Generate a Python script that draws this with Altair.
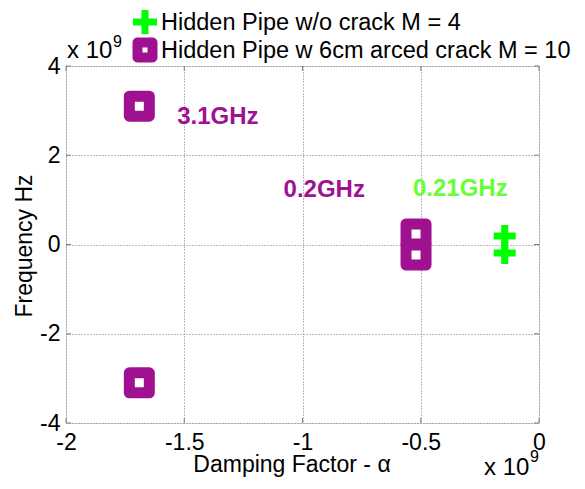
import altair as alt
import pandas as pd

# ---- data (values in units of 1e9) ----
series_names = ["Hidden Pipe w/o crack M = 4", "Hidden Pipe w 6cm arced crack M = 10"]
green_x = [-0.145, -0.145]
green_y = [0.19, -0.19]
purple_x = [-1.69, -1.69, -0.52, -0.52]
purple_y = [3.1, -3.1, 0.235, -0.235]
annot_text = ["3.1GHz", "0.2GHz", "0.21GHz"]
annot_x = [-1.53, -1.08, -0.533]
annot_y = [2.85, 1.23, 1.25]
annot_series = ["purple", "purple", "green"]
x_ticks = [-2, -1.5, -1, -0.5, 0]
y_ticks = [-4, -2, 0, 2, 4]
x_domain = [-2, 0]
y_domain = [-4, 4]

PURPLE = "#A01191"
GREEN = "#00FF00"
GREEN_TXT = "#66FF33"
GRAY = "#808080"
FONT = "Liberation Sans"
W, H = 473, 357

xs = alt.Scale(domain=x_domain, nice=False, zero=False)
ys = alt.Scale(domain=y_domain, nice=False, zero=False)

x_axis = alt.Axis(values=x_ticks, grid=True, ticks=False, domain=False, title=None,
                  labelFont=FONT, labelFontSize=23, labelColor="black", labelPadding=8,
                  labelExpr="toString(datum.value)", gridColor="#777777", gridDash=[1, 2],
                  labelFlush=False, labelOverlap=False)
y_axis = alt.Axis(values=y_ticks, grid=True, ticks=False, domain=False, title=None,
                  labelFont=FONT, labelFontSize=23, labelColor="black", labelPadding=6,
                  labelExpr="toString(datum.value)", gridColor="#777777", gridDash=[1, 2],
                  labelFlush=False, labelOverlap=False)

green_df = pd.DataFrame({"x": green_x, "y": green_y, "s": series_names[0]})
purple_df = pd.DataFrame({"x": purple_x, "y": purple_y, "s": series_names[1]})
annot_df = pd.DataFrame({"x": annot_x, "y": annot_y, "t": annot_text, "c": annot_series})
xt_df = pd.DataFrame({"t": x_ticks})
yt_df = pd.DataFrame({"t": y_ticks})

X = lambda f: alt.X(f, type="quantitative", scale=xs, axis=x_axis)
Y = lambda f: alt.Y(f, type="quantitative", scale=ys, axis=y_axis)

PLUS = "M-1,0H1M0,-1V1"

base_grid = alt.Chart(purple_df).mark_point(opacity=0).encode(x=X("x"), y=Y("y"))

tick_top = alt.Chart(xt_df).mark_rule(color=GRAY, strokeWidth=1).encode(
    x=X("t"), y=alt.value(0), y2=alt.value(5))
tick_bot = alt.Chart(xt_df).mark_rule(color=GRAY, strokeWidth=1).encode(
    x=X("t"), y=alt.value(H - 5), y2=alt.value(H))
tick_left = alt.Chart(yt_df).mark_rule(color=GRAY, strokeWidth=1).encode(
    y=Y("t"), x=alt.value(0), x2=alt.value(5))
tick_right = alt.Chart(yt_df).mark_rule(color=GRAY, strokeWidth=1).encode(
    y=Y("t"), x=alt.value(W - 5), x2=alt.value(W))

purple_pts = alt.Chart(purple_df).mark_point(
    shape="square", filled=True, fill="white", stroke=PURPLE, strokeWidth=11,
    strokeJoin="round", size=400, opacity=1, fillOpacity=1, strokeOpacity=1
).encode(x=X("x"), y=Y("y"))

green_pts = alt.Chart(green_df).mark_point(
    shape=PLUS, filled=False, stroke=GREEN, strokeWidth=7, strokeCap="butt",
    size=484, opacity=1, strokeOpacity=1
).encode(x=X("x"), y=Y("y"))

annot = alt.Chart(annot_df).mark_text(
    align="left", baseline="middle", font=FONT, fontSize=24, fontWeight="bold"
).encode(
    x=X("x"), y=Y("y"), text="t:N",
    color=alt.Color("c:N", scale=alt.Scale(domain=["purple", "green"], range=[PURPLE, GREEN_TXT]), legend=None),
)

# ---- legend (manual, MATLAB style) ----
leg_df = pd.DataFrame({"name": series_names})
leg_green_icon = alt.Chart(leg_df.iloc[[0]]).mark_point(
    shape=PLUS, filled=False, stroke=GREEN, strokeWidth=7, strokeCap="butt",
    size=576, opacity=1).encode(x=alt.value(79), y=alt.value(-44))
leg_purple_icon = alt.Chart(leg_df.iloc[[1]]).mark_point(
    shape="square", filled=True, fill="white", stroke=PURPLE, strokeWidth=10,
    strokeJoin="round", size=225, opacity=1, fillOpacity=1).encode(x=alt.value(79), y=alt.value(-16))
leg_text1 = alt.Chart(leg_df.iloc[[0]]).mark_text(
    align="left", baseline="alphabetic", font=FONT, fontSize=23.5, color="black"
).encode(x=alt.value(95), y=alt.value(-36), text="name:N")
leg_text2 = alt.Chart(leg_df.iloc[[1]]).mark_text(
    align="left", baseline="alphabetic", font=FONT, fontSize=23.5, color="black"
).encode(x=alt.value(95), y=alt.value(-8), text="name:N")

# ---- exponent labels and axis titles ----
one = pd.DataFrame({"a": [0]})
def txt(s, x, y, size, angle=0, align="left", baseline="alphabetic"):
    kw = dict(align=align, baseline=baseline, font=FONT, fontSize=size, color="black", text=s)
    if angle:
        kw["angle"] = angle
    return alt.Chart(one).mark_text(**kw).encode(x=alt.value(x), y=alt.value(y))

exp_top = txt("x 10", 1, -8, 24)
exp_top9 = txt("9", 47, -19, 16)
exp_bot = txt("x 10", 418, 409, 24)
exp_bot9 = txt("9", 464, 396, 16)
xtitle = txt("Damping Factor - \u03b1", 226, 406, 23, align="center")
ytitle = txt("Frequency Hz", -41, 180, 23, angle=270, align="center", baseline="middle")

chart = alt.layer(
    base_grid, tick_top, tick_bot, tick_left, tick_right,
    purple_pts, green_pts, annot,
    leg_green_icon, leg_purple_icon, leg_text1, leg_text2,
    exp_top, exp_top9, exp_bot, exp_bot9, xtitle, ytitle,
).properties(
    width=W, height=H,
    autosize=alt.AutoSizeParams(type="none"),
    padding={"left": 58, "top": 58, "right": 38, "bottom": 56},
).configure_view(stroke=GRAY, strokeWidth=1).configure(background="white")

chart.save("out.html", embed_options={"renderer": "svg", "actions": False})
